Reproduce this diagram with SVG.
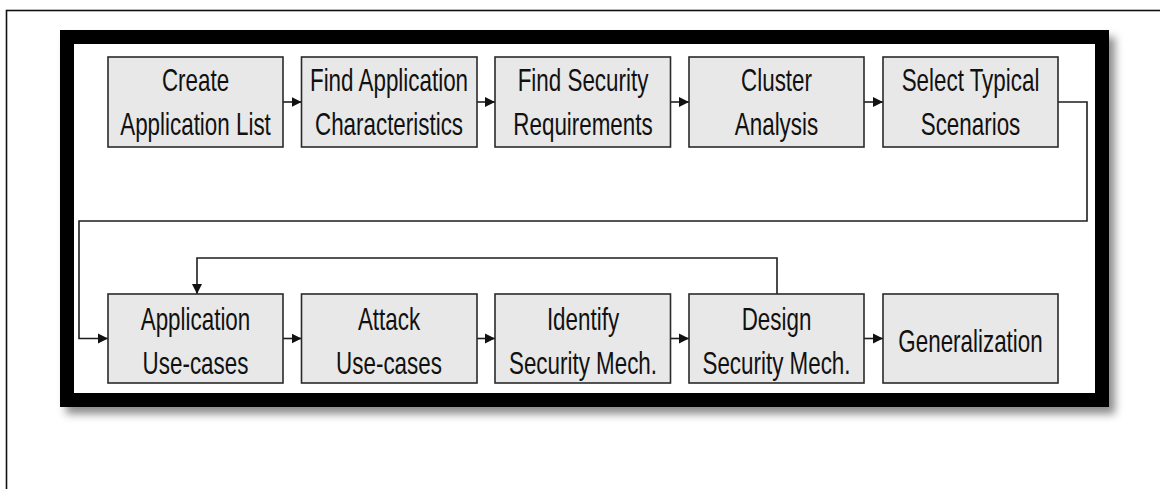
<svg xmlns="http://www.w3.org/2000/svg" width="1160" height="489" viewBox="0 0 1160 489">
  <style>
    .box { fill: #e8e8e8; stroke: #2a2a2a; stroke-width: 1.6; }
    .lbl { font-family: "Liberation Sans", Arial, sans-serif; font-size: 32px; fill: #111; text-anchor: middle; }
    .wire { fill: none; stroke: #1e1e1e; stroke-width: 1.6; }
  </style>
  <defs>
    <marker id="head" viewBox="0 0 10 10" refX="10" refY="5" markerWidth="10" markerHeight="11" markerUnits="userSpaceOnUse" orient="auto">
      <path d="M0,0 L10,5 L0,10 z" fill="#111"/>
    </marker>
    <filter id="shadow" x="-5%" y="-5%" width="115%" height="120%">
      <feDropShadow dx="6" dy="7" stdDeviation="4" flood-color="#000" flood-opacity="0.45"/>
    </filter>
  </defs>

  <rect x="0" y="0" width="1160" height="489" fill="#fff"/>
  <!-- page border, running off the right and bottom edges -->
  <rect x="6.5" y="10.5" width="1300" height="600" fill="none" stroke="#111" stroke-width="1.6"/>

  <!-- heavy frame -->
  <rect id="frame" x="67" y="37" width="1035" height="363" fill="#fff" stroke="#000" stroke-width="14" filter="url(#shadow)"/>

  <!-- connectors -->
  <g id="connectors">
    <line class="wire" x1="283" y1="102" x2="301.5" y2="102" marker-end="url(#head)"/>
    <line class="wire" x1="477" y1="102" x2="495" y2="102" marker-end="url(#head)"/>
    <line class="wire" x1="670.5" y1="102" x2="689" y2="102" marker-end="url(#head)"/>
    <line class="wire" x1="864" y1="102" x2="883" y2="102" marker-end="url(#head)"/>
    <polyline class="wire" points="1058,102 1087,102 1087,221 79,221 79,338.5 108,338.5" marker-end="url(#head)"/>
    <line class="wire" x1="283" y1="338.5" x2="301.5" y2="338.5" marker-end="url(#head)"/>
    <line class="wire" x1="477" y1="338.5" x2="495" y2="338.5" marker-end="url(#head)"/>
    <line class="wire" x1="670.5" y1="338.5" x2="689" y2="338.5" marker-end="url(#head)"/>
    <line class="wire" x1="864" y1="338.5" x2="883" y2="338.5" marker-end="url(#head)"/>
    <polyline class="wire" points="777,294 777,258 197,258 197,294" marker-end="url(#head)"/>
  </g>

  <!-- top row -->
  <g id="create-list">
    <rect class="box" x="108" y="57" width="175" height="90"/>
    <text class="lbl" transform="translate(195.5,91) scale(0.7,1)">Create</text>
    <text class="lbl" transform="translate(195.5,135) scale(0.7,1)">Application List</text>
  </g>
  <g id="find-characteristics">
    <rect class="box" x="301.5" y="57" width="175.5" height="90"/>
    <text class="lbl" transform="translate(389,91) scale(0.7,1)">Find Application</text>
    <text class="lbl" transform="translate(389,135) scale(0.7,1)">Characteristics</text>
  </g>
  <g id="find-requirements">
    <rect class="box" x="495" y="57" width="175.5" height="90"/>
    <text class="lbl" transform="translate(583,91) scale(0.7,1)">Find Security</text>
    <text class="lbl" transform="translate(583,135) scale(0.7,1)">Requirements</text>
  </g>
  <g id="cluster-analysis">
    <rect class="box" x="689" y="57" width="175" height="90"/>
    <text class="lbl" transform="translate(776.5,91) scale(0.7,1)">Cluster</text>
    <text class="lbl" transform="translate(776.5,135) scale(0.7,1)">Analysis</text>
  </g>
  <g id="select-scenarios">
    <rect class="box" x="883" y="57" width="175" height="90"/>
    <text class="lbl" transform="translate(970.5,91) scale(0.7,1)">Select Typical</text>
    <text class="lbl" transform="translate(970.5,135) scale(0.7,1)">Scenarios</text>
  </g>

  <!-- bottom row -->
  <g id="app-use-cases">
    <rect class="box" x="108" y="294" width="175" height="89"/>
    <text class="lbl" transform="translate(195.5,330) scale(0.7,1)">Application</text>
    <text class="lbl" transform="translate(195.5,374) scale(0.7,1)">Use-cases</text>
  </g>
  <g id="attack-use-cases">
    <rect class="box" x="301.5" y="294" width="175.5" height="89"/>
    <text class="lbl" transform="translate(389,330) scale(0.7,1)">Attack</text>
    <text class="lbl" transform="translate(389,374) scale(0.7,1)">Use-cases</text>
  </g>
  <g id="identify-mech">
    <rect class="box" x="495" y="294" width="175.5" height="89"/>
    <text class="lbl" transform="translate(583,330) scale(0.7,1)">Identify</text>
    <text class="lbl" transform="translate(583,374) scale(0.7,1)">Security Mech.</text>
  </g>
  <g id="design-mech">
    <rect class="box" x="689" y="294" width="175" height="89"/>
    <text class="lbl" transform="translate(776.5,330) scale(0.7,1)">Design</text>
    <text class="lbl" transform="translate(776.5,374) scale(0.7,1)">Security Mech.</text>
  </g>
  <g id="generalization">
    <rect class="box" x="883" y="294" width="175" height="89"/>
    <text class="lbl" transform="translate(970.5,352) scale(0.7,1)">Generalization</text>
  </g>
</svg>
